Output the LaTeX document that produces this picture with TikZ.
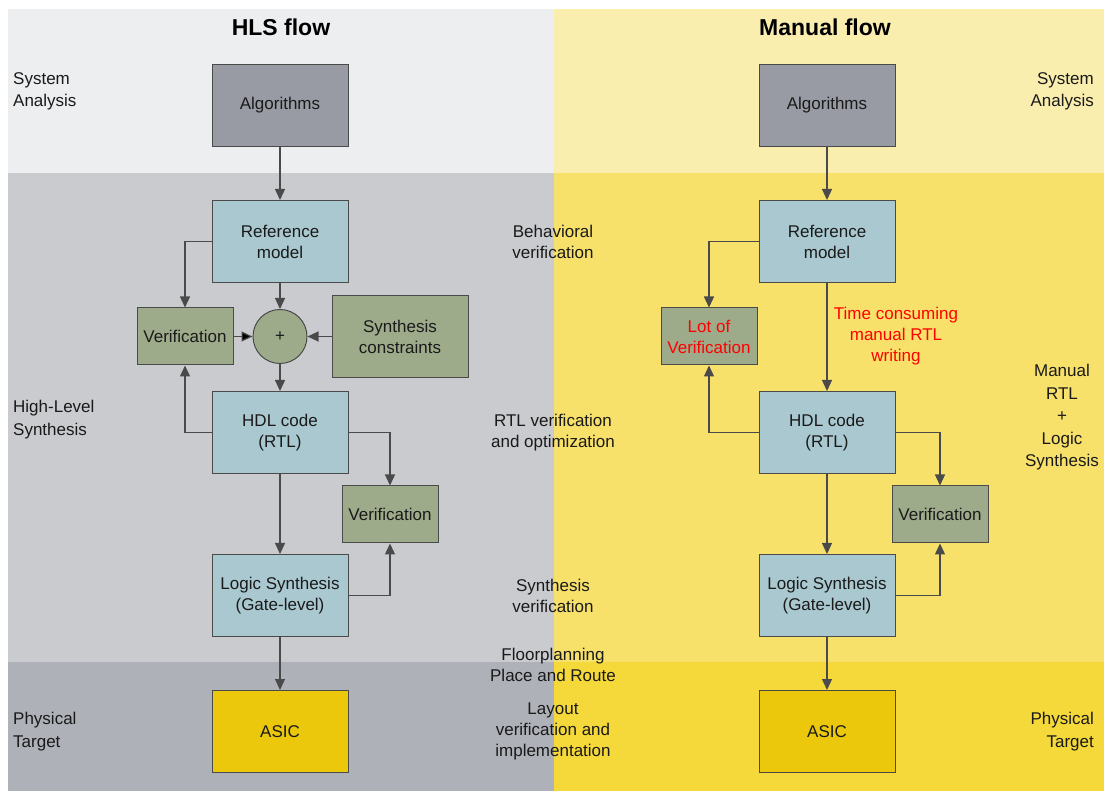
\documentclass[tikz,border=0pt]{standalone}
\usepackage{fontspec}
\setmainfont{Liberation Sans}
\usetikzlibrary{arrows.meta}
\definecolor{bgLtop}{HTML}{EDEEF0}
\definecolor{bgLmid}{HTML}{CACBCF}
\definecolor{bgLbot}{HTML}{AEB1B8}
\definecolor{bgRtop}{HTML}{FAEEAF}
\definecolor{bgRmid}{HTML}{F7E16A}
\definecolor{bgRbot}{HTML}{F5D93A}
\definecolor{algfill}{HTML}{989BA3}
\definecolor{reffill}{HTML}{A9C8D0}
\definecolor{verfill}{HTML}{9EAB8A}
\definecolor{asicfill}{HTML}{EBC80C}
\definecolor{edge}{HTML}{4A4A4A}
\definecolor{ink}{HTML}{1A1A1A}
\tikzset{
  txt/.style={font=\fontsize{17}{21}\selectfont, text=ink, align=center, inner sep=0pt, yshift=-1.5pt},
  lbl/.style={txt, font=\fontsize{17}{22.5}\selectfont},
  box/.style={txt, draw=edge, line width=1pt, minimum width=136pt, minimum height=82pt},
  algbox/.style={box, fill=algfill},
  refbox/.style={box, fill=reffill},
  verbox/.style={box, fill=verfill, minimum width=96pt, minimum height=57pt},
  synbox/.style={box, fill=verfill},
  asicbox/.style={box, fill=asicfill},
  sumnode/.style={txt, circle, draw=edge, line width=1pt, fill=verfill, minimum size=54pt},
  arr/.style={draw=edge, line width=1.2pt, -{Triangle[length=11pt,width=10pt]}},
  title/.style={font=\fontsize{23}{27}\selectfont\bfseries, text=black, inner sep=0pt},
  redtxt/.style={txt, text=red}
}
\begin{document}
\begin{tikzpicture}[x=1pt, y=-1pt]
\useasboundingbox (0,0) rectangle (1104,791);
% background bands
\fill[bgLtop] (8,9) rectangle (554,173);
\fill[bgLmid] (8,173) rectangle (554,662);
\fill[bgLbot] (8,662) rectangle (554,791);
\fill[bgRtop] (554,9) rectangle (1104,173);
\fill[bgRmid] (554,173) rectangle (1104,662);
\fill[bgRbot] (554,662) rectangle (1104,791);

% titles
\node[title] (tl) at (281,27) {HLS flow};
\node[title] (tr) at (825,27) {Manual flow};

% side labels
\node[lbl, align=left, anchor=west] (sa1) at (13,90) {System\\Analysis};
\node[lbl, align=left, anchor=west] (hls) at (13,418) {High-Level\\Synthesis};
\node[lbl, align=left, anchor=west] (pt1) at (13,730) {Physical\\Target};
\node[lbl, align=right, anchor=east] (sa2) at (1094,90) {System\\Analysis};
\node[lbl] (man) at (1062,416) {Manual\\RTL\\+\\Logic\\Synthesis};
\node[lbl, align=right, anchor=east] (pt2) at (1094,730) {Physical\\Target};

% step descriptions in the middle
\node[txt] (d1) at (553,240) {Behavioral\\verification};
\node[txt] (d2) at (553,431) {RTL verification\\and optimization};
\node[txt] (d3) at (553,594) {Synthesis\\verification};
\node[txt] (d4) at (553,663) {Floorplanning\\Place and Route};
\node[txt] (d5) at (553,730) {Layout\\verification and\\implementation};

% HLS flow
\node[algbox] (alg) at (280,104) {Algorithms};
\node[refbox] (ref) at (280,240) {Reference\\model};
\node[sumnode] (sum) at (280,335) {+};
\node[verbox] (ver) at (185,335) {Verification};
\node[synbox] (syn) at (400,335) {Synthesis\\constraints};
\node[refbox] (hdl) at (280,431) {HDL code\\(RTL)};
\node[verbox] (ver2) at (390,513) {Verification};
\node[refbox] (log) at (280,594) {Logic Synthesis\\(Gate-level)};
\node[asicbox] (asic) at (280,730) {ASIC};

\draw[arr] (alg) -- (ref);
\draw[arr] (ref) -- (sum);
\draw[arr] (ref.west) -| (ver.north);
\draw[arr, -{Triangle[length=11pt,width=10pt, fill=black]}] (ver) -- (sum);
\draw[arr] (syn) -- (sum);
\draw[arr] (sum) -- (hdl);
\draw[arr] (hdl.west) -| (ver.south);
\draw[arr] (hdl.east) -| (ver2.north);
\draw[arr] (hdl) -- (log);
\draw[arr] (log.east) -| (ver2.south);
\draw[arr] (log) -- (asic);

% Manual flow
\node[algbox] (malg) at (827,104) {Algorithms};
\node[refbox] (mref) at (827,240) {Reference\\model};
\node[verbox, text=red] (lot) at (709,335) {Lot of\\Verification};
\node[redtxt] (note) at (896,335) {Time consuming\\manual RTL\\writing};
\node[refbox] (mhdl) at (827,431) {HDL code\\(RTL)};
\node[verbox] (mver) at (940,513) {Verification};
\node[refbox] (mlog) at (827,594) {Logic Synthesis\\(Gate-level)};
\node[asicbox] (masic) at (827,730) {ASIC};

\draw[arr] (malg) -- (mref);
\draw[arr] (mref.west) -| (lot.north);
\draw[arr] (mref) -- (mhdl);
\draw[arr] (mhdl.west) -| (lot.south);
\draw[arr] (mhdl.east) -| (mver.north);
\draw[arr] (mhdl) -- (mlog);
\draw[arr] (mlog.east) -| (mver.south);
\draw[arr] (mlog) -- (masic);
\end{tikzpicture}
\end{document}
